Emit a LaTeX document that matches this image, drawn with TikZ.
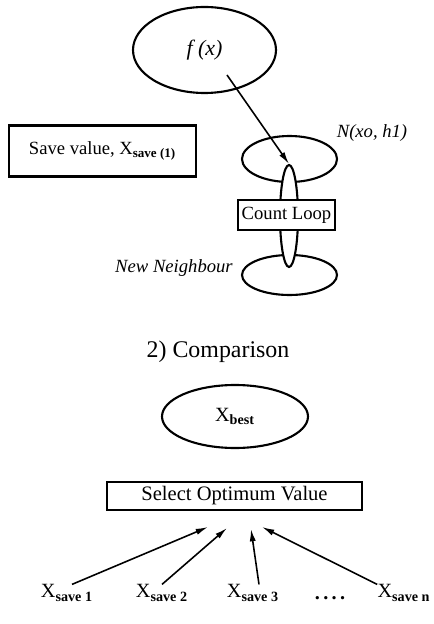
\documentclass[tikz,border=0pt]{standalone}
\usepackage{fontspec}
\setmainfont{Liberation Serif}
\usepackage{tikz}
\usetikzlibrary{
    arrows,
    arrows.meta,
    shapes,
    positioning
}

\begin{document}
\begin{tikzpicture}[
    >={Latex[length=7pt, width=3.5pt]},
    oval/.style={draw, ellipse, line width=1.2pt, inner sep=0pt},
    box/.style={draw, rectangle, line width=1.2pt, fill=white, inner sep=0pt},
    lbl/.style={inner sep=0pt},
    every node/.style={font=\fontsize{10.6}{12}\selectfont}
]
    \useasboundingbox (0, 0) rectangle (8.66, -12.48);

    % neighbourhood search
    \node[oval, minimum width=2.86cm, minimum height=1.72cm] (fx) at (4.09, -1.00) {\fontsize{12.5}{14}\selectfont\textit{f (x)}};
    \coordinate (fxin) at (4.54, -1.50);
    \node[box, minimum width=3.74cm, minimum height=1.02cm] (sv) at (2.05, -3.02) {Save value, X\textsubscript{\textbf{save (1)}}};
    \node[lbl] (nl) at (7.44, -2.66) {\textit{N(xo, h1)}};
    \node[oval, minimum width=1.9cm, minimum height=0.92cm] (nb1) at (5.79, -3.18) {};
    \node[oval, minimum width=1.9cm, minimum height=0.8cm] (nb2) at (5.79, -5.50) {};
    \node[oval, fill=white, minimum width=0.36cm, minimum height=2.04cm] (lp) at (5.78, -4.32) {};
    \node[box, minimum width=1.94cm, minimum height=0.6cm] (cl) at (5.73, -4.30) {Count Loop};
    \node[lbl] (nn) at (3.48, -5.36) {\textit{New Neighbour}};

    \draw[line width=0.9pt]
    (fxin) edge[->] (lp.north);

    % comparison
    \node (ti) at (4.36, -7.04) {\fontsize{13.6}{16}\selectfont 2) Comparison};
    \node[oval, minimum width=2.92cm, minimum height=1.26cm] (xb) at (4.70, -8.33) {\fontsize{11.5}{13}\selectfont X\textsubscript{\textbf{best}}};
    \node[box, minimum width=5.10cm, minimum height=0.56cm] (so) at (4.69, -9.92) {\fontsize{11.7}{14}\selectfont Select Optimum Value};

    \node[lbl] (x1) at (1.34, -11.86) {\fontsize{11.5}{13}\selectfont X\textsubscript{\textbf{save 1}}};
    \node[lbl] (x2) at (3.24, -11.86) {\fontsize{11.5}{13}\selectfont X\textsubscript{\textbf{save 2}}};
    \node[lbl] (x3) at (5.06, -11.86) {\fontsize{11.5}{13}\selectfont X\textsubscript{\textbf{save 3}}};
    \node[lbl] (dt) at (6.60, -11.96) {\fontsize{11.5}{13}\selectfont\textbf{.\,.\,.\,.}};
    \node[lbl] (xn) at (8.08, -11.86) {\fontsize{11.5}{13}\selectfont X\textsubscript{\textbf{save n}}};

    \coordinate (in1) at (4.16, -10.54);
    \coordinate (in2) at (4.54, -10.56);
    \coordinate (in3) at (5.02, -10.58);
    \coordinate (inn) at (5.24, -10.54);

    \draw[line width=0.9pt]
    ([xshift=0.1cm]x1.north) edge[->] (in1)
    (x2.north) edge[->] (in2)
    ([xshift=0.12cm]x3.north) edge[->] (in3)
    (xn.north west) edge[->] (inn);
\end{tikzpicture}
\end{document}
